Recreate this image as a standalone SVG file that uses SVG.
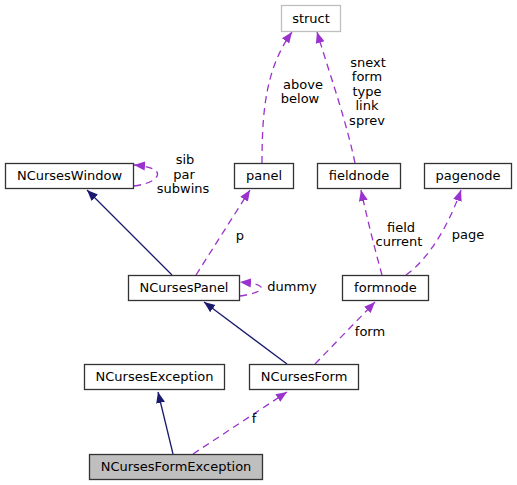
<svg xmlns="http://www.w3.org/2000/svg" width="517" height="485" viewBox="0 0 517 485">
<style>
text{font-family:"DejaVu Sans",sans-serif;font-size:13px;fill:#000;text-anchor:middle}
.n{fill:#fff;stroke:#333;stroke-width:1.3}
.g{fill:#fff;stroke:#bfbfbf;stroke-width:1.3}
.h{fill:#bfbfbf;stroke:#333;stroke-width:1.3}
.inh{fill:none;stroke:#191970;stroke-width:1.3;marker-end:url(#an)}
.use{fill:none;stroke:#9a32cd;stroke-width:1.3;stroke-dasharray:7,5;marker-end:url(#ap)}
</style>
<defs>
<marker id="an" markerUnits="userSpaceOnUse" markerWidth="12" markerHeight="10" refX="11" refY="5" orient="auto"><path d="M0,0.5 L11,5 L0,9.5 z" fill="#191970"/></marker>
<marker id="ap" markerUnits="userSpaceOnUse" markerWidth="12" markerHeight="10" refX="11" refY="5" orient="auto"><path d="M0,0.5 L11,5 L0,9.5 z" fill="#9a32cd"/></marker>
</defs>
<g id="edges">
<path class="inh" d="M172,275 L87,190"/>
<path class="inh" d="M287,364 L204,302"/>
<path class="inh" d="M173,454 L158,392"/>
<path class="use" d="M193,454 L287,392"/>
<path class="use" d="M315,364 L375,302"/>
<path class="use" d="M382,275 C375,250 367,218 361,190"/>
<path class="use" d="M406,275 C430,258 450,222 461,190"/>
<path class="use" d="M196,275 L250,190"/>
<path class="use" d="M240,296 C253,294 263,291 261,287 C259,284 252,283 240,282"/>
<path class="use" d="M134,186 C150,184 160,178 157,172 C154,168 146,166 134,165"/>
<path class="use" d="M262,163 C262,110 266,68 292,32"/>
<path class="use" d="M355,163 C346,120 330,75 317,32"/>
</g>
<g id="edge-labels">
<text x="185" y="164">sib</text>
<text x="184" y="178.5">par</text>
<text x="183" y="193">subwins</text>
<text x="303" y="89">above</text>
<text x="300" y="103">below</text>
<text x="368" y="66.5">snext</text>
<text x="367" y="81">form</text>
<text x="367" y="95.5">type</text>
<text x="367" y="110">link</text>
<text x="367" y="124.5">sprev</text>
<text x="240" y="240">p</text>
<text x="292" y="291">dummy</text>
<text x="401" y="231.5">field</text>
<text x="399" y="246">current</text>
<text x="468" y="239">page</text>
<text x="370" y="335.5">form</text>
<text x="254" y="423">f</text>
</g>
<g id="struct"><rect class="g" x="281.5" y="5.5" width="59" height="26"/><text x="311" y="23">struct</text></g>
<g id="NCursesWindow"><rect class="n" x="5.5" y="163.5" width="128" height="25"/><text x="69.5" y="180">NCursesWindow</text></g>
<g id="panel"><rect class="n" x="234.5" y="163.5" width="59" height="25"/><text x="264" y="180">panel</text></g>
<g id="fieldnode"><rect class="n" x="317.5" y="163.5" width="83" height="25"/><text x="359" y="180">fieldnode</text></g>
<g id="pagenode"><rect class="n" x="424.5" y="163.5" width="87" height="25"/><text x="468" y="180">pagenode</text></g>
<g id="NCursesPanel"><rect class="n" x="128.5" y="275.5" width="111" height="25"/><text x="184" y="292">NCursesPanel</text></g>
<g id="formnode"><rect class="n" x="342.5" y="275.5" width="86" height="25"/><text x="385.5" y="292">formnode</text></g>
<g id="NCursesException"><rect class="n" x="84.5" y="364.5" width="140" height="25"/><text x="154.5" y="381">NCursesException</text></g>
<g id="NCursesForm"><rect class="n" x="249.5" y="364.5" width="109" height="25"/><text x="304" y="381">NCursesForm</text></g>
<g id="NCursesFormException"><rect class="h" x="89.5" y="454.5" width="173" height="25"/><text x="176" y="471">NCursesFormException</text></g>
</svg>
